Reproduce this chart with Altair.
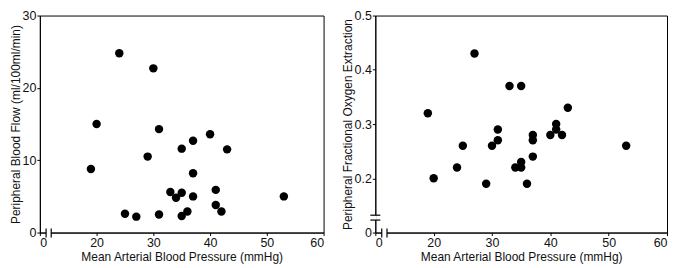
import altair as alt
import pandas as pd

# Left panel: Mean arterial BP vs peripheral blood flow
map_flow = [24, 30, 20, 19, 31, 29, 40, 37, 35, 43, 37, 33, 34, 35, 37, 41, 53, 41, 42, 25, 27, 31, 35, 36]
flow = [24.8, 22.7, 15.0, 8.8, 14.3, 10.5, 13.6, 12.7, 11.6, 11.5, 8.2, 5.6, 4.8, 5.5, 5.0, 5.9, 5.0, 3.8, 2.9, 2.6, 2.2, 2.5, 2.3, 2.9]

# Right panel: Mean arterial BP vs fractional oxygen extraction
map_oe = [27, 19, 33, 35, 43, 20, 24, 25, 29, 30, 31, 31, 34, 35, 35, 36, 37, 37, 37, 40, 41, 41, 42, 53]
oe = [0.43, 0.32, 0.37, 0.37, 0.33, 0.20, 0.22, 0.26, 0.19, 0.26, 0.27, 0.29, 0.22, 0.22, 0.23, 0.19, 0.24, 0.27, 0.28, 0.28, 0.30, 0.29, 0.28, 0.26]

x_ticks = [10, 20, 30, 40, 50, 60]
y1_ticks = [0, 10, 20, 30]
y2_ticks = [0.1, 0.2, 0.3, 0.4, 0.5]

x_break = [11.1, 12.0]
y2_break = [0.123, 0.132]

X_TITLE = "Mean Arterial Blood Pressure (mmHg)"
FONT = "Liberation Sans"
H = 218
W1 = 285
W2 = 293

df1 = pd.DataFrame({"x": map_flow, "y": flow})
df2 = pd.DataFrame({"x": map_oe, "y": oe})
dfxb = pd.DataFrame({"x": x_break})
dfxg = pd.DataFrame({"x": [x_break[0]], "x2": [x_break[1]]})
dfyb = pd.DataFrame({"y": y2_break})
dfyg = pd.DataFrame({"y": [y2_break[0]], "y2": [y2_break[1]]})

xscale = alt.Scale(domain=[10, 60], nice=False, zero=False)
xaxis = alt.Axis(values=x_ticks, title=X_TITLE, grid=False,
                 labelExpr="datum.value == 10 ? '0' : datum.label",
                 tickSize=3, labelPadding=1, titlePadding=3)


def panel(df, yscale, yaxis, width, xb_extra):
    pts = alt.Chart(df).mark_circle(size=72, color="black", opacity=1).encode(
        x=alt.X("x:Q", scale=xscale, axis=xaxis),
        y=alt.Y("y:Q", scale=yscale, axis=yaxis),
    )
    gap = alt.Chart(dfxg).mark_rule(color="white", strokeWidth=3).encode(
        x=alt.X("x:Q", scale=xscale), x2="x2:Q", y=alt.value(H)
    )
    bars = alt.Chart(dfxb).mark_rule(color="black", strokeWidth=1.2).encode(
        x=alt.X("x:Q", scale=xscale), y=alt.value(H - 4), y2=alt.value(H + 5)
    )
    layers = [pts, gap, bars] + xb_extra
    return alt.layer(*layers).properties(width=width, height=H)


y1scale = alt.Scale(domain=[0, 30], nice=False)
y1axis = alt.Axis(values=y1_ticks, title="Peripheral Blood Flow (ml/100ml/min)", grid=False,
                  tickSize=3, labelPadding=1, titlePadding=0)

y2scale = alt.Scale(domain=[0.1, 0.5], nice=False, zero=False)
y2axis = alt.Axis(values=y2_ticks, title="Peripheral Fractional Oxygen Extraction", grid=False,
                  format=".1f", labelExpr="datum.value < 0.15 ? '0' : datum.label",
                  tickSize=3, labelPadding=1, titlePadding=0)

ygap = alt.Chart(dfyg).mark_rule(color="white", strokeWidth=3).encode(
    y=alt.Y("y:Q", scale=y2scale), y2="y2:Q", x=alt.value(0)
)
ybars = alt.Chart(dfyb).mark_rule(color="black", strokeWidth=1.2).encode(
    y=alt.Y("y:Q", scale=y2scale), x=alt.value(-5), x2=alt.value(5)
)

left = panel(df1, y1scale, y1axis, W1, [])
right = panel(df2, y2scale, y2axis, W2, [ygap, ybars])

chart = alt.hconcat(left, right, spacing=52, bounds="flush").resolve_scale(
    x="independent", y="independent"
).properties(padding=0).configure_view(
    stroke="black", strokeWidth=1
).configure_axis(
    labelFont=FONT, titleFont=FONT, labelFontSize=12.5, titleFontSize=12,
    titleFontWeight="normal", labelColor="#111", titleColor="#111",
    domainColor="black", tickColor="black", domainWidth=1
)

chart.save("out.html", embed_options={"renderer": "svg", "actions": False})
